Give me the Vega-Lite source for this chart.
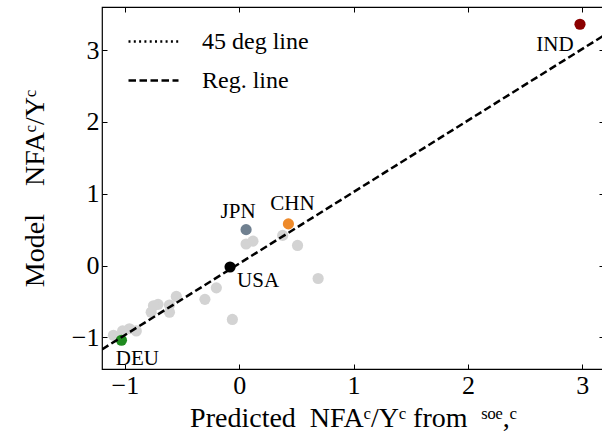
{
  "$schema": "https://vega.github.io/schema/vega-lite/v6.json",
  "width": 502,
  "height": 362,
  "autosize": {"type": "none"},
  "padding": {"left": 102, "top": 7, "right": 0, "bottom": 78},
  "config": {
    "view": {"stroke": "#000", "strokeWidth": 1.2},
    "font": "Liberation Serif",
    "axis": {
      "grid": false,
      "domain": false,
      "tickColor": "#000",
      "tickSize": -5,
      "tickWidth": 1,
      "labelFont": "Liberation Serif",
      "labelFontSize": 26,
      "labelColor": "#000",
      "titleFont": "Liberation Serif",
      "titleFontSize": 28,
      "titleFontWeight": "normal",
      "titleColor": "#000"
    },
    "legend": {
      "labelFont": "Liberation Serif",
      "labelFontSize": 24,
      "labelColor": "#000"
    }
  },
  "datasets": {
    "pts": [
      {"name": "other", "x": 0.06, "y": 0.30},
      {"name": "other", "x": 0.12, "y": 0.34},
      {"name": "other", "x": 0.38, "y": 0.42},
      {"name": "other", "x": 0.51, "y": 0.28},
      {"name": "other", "x": 0.69, "y": -0.18},
      {"name": "other", "x": -0.20, "y": -0.31},
      {"name": "other", "x": -0.30, "y": -0.47},
      {"name": "other", "x": -0.06, "y": -0.75},
      {"name": "other", "x": -0.55, "y": -0.43},
      {"name": "other", "x": -0.61, "y": -0.55},
      {"name": "other", "x": -0.61, "y": -0.65},
      {"name": "other", "x": -0.71, "y": -0.54},
      {"name": "other", "x": -0.75, "y": -0.56},
      {"name": "other", "x": -0.77, "y": -0.65},
      {"name": "other", "x": -0.90, "y": -0.91},
      {"name": "other", "x": -0.96, "y": -0.88},
      {"name": "other", "x": -1.02, "y": -0.91},
      {"name": "other", "x": -1.10, "y": -0.97},
      {"name": "USA", "x": -0.08, "y": -0.02},
      {"name": "JPN", "x": 0.06, "y": 0.50},
      {"name": "CHN", "x": 0.43, "y": 0.58},
      {"name": "DEU", "x": -1.03, "y": -1.04},
      {"name": "IND", "x": 2.98, "y": 3.36}
    ],
    "lines": [
      {"line": "45 deg line", "x": -1.2, "y": -1.2},
      {"line": "45 deg line", "x": 3.19, "y": 3.19},
      {"line": "Reg. line", "x": -1.2, "y": -1.167},
      {"line": "Reg. line", "x": 3.19, "y": 3.205}
    ]
  },
  "resolve": {"axis": {"x": "independent", "y": "independent"}},
  "layer": [
    {
      "data": {"name": "pts"},
      "mark": {"type": "circle", "size": 125, "opacity": 1},
      "encoding": {
        "x": {"field": "x", "type": "quantitative",
              "scale": {"domain": [-1.2, 3.19], "nice": false, "zero": false},
              "axis": {"values": [-1, 0, 1, 2, 3], "title": "Predicted\u00a0\u00a0NFAᶜ/Yᶜ from\u00a0\u00a0ˢᵒᵉ,ᶜ", "labelPadding": 8, "titlePadding": 6}},
        "y": {"field": "y", "type": "quantitative",
              "scale": {"domain": [-1.44, 3.6], "nice": false, "zero": false},
              "axis": {"values": [-1, 0, 1, 2, 3], "title": "Model\u00a0\u00a0\u00a0\u00a0NFAᶜ/Yᶜ", "labelPadding": 8, "titlePadding": 22}},
        "color": {"field": "name", "type": "nominal", "legend": null,
                  "scale": {"domain": ["other", "USA", "JPN", "CHN", "DEU", "IND"],
                            "range": ["#d3d3d3", "#000000", "#708090", "#ee8a2a", "#1f8b1f", "#8b0000"]}}
      }
    },
    {
      "data": {"name": "lines"},
      "mark": {"type": "line", "clip": true, "strokeWidth": 2.5, "color": "#000"},
      "encoding": {
        "x": {"field": "x", "type": "quantitative",
              "axis": {"orient": "top", "labels": false, "title": null, "values": [-1, 0, 1, 2, 3]}},
        "y": {"field": "y", "type": "quantitative",
              "axis": {"orient": "right", "labels": false, "title": null, "values": [-1, 0, 1, 2, 3]}},
        "strokeOpacity": {"field": "line", "type": "nominal", "legend": null,
                          "scale": {"domain": ["45 deg line", "Reg. line"], "range": [0, 1]}},
        "strokeDash": {"field": "line", "type": "nominal",
                       "scale": {"domain": ["45 deg line", "Reg. line"], "range": [[2, 3.3], [7.5, 3.5]]},
                       "legend": {"title": null, "orient": "none", "legendX": 25, "legendY": 8,
                                  "symbolType": "stroke", "symbolSize": 2500, "symbolStrokeWidth": 2.5,
                                  "symbolStrokeColor": "#000", "symbolOpacity": 1, "labelOffset": 22, "rowPadding": -14, "padding": 0}}
      }
    },
    {
      "data": {"name": "pts"},
      "transform": [{"filter": "datum.name === 'JPN'"}],
      "mark": {"type": "text", "fontSize": 21, "font": "Liberation Serif", "dx": -8, "dy": -12, "baseline": "alphabetic", "align": "center", "color": "#000"},
      "encoding": {"x": {"field": "x", "type": "quantitative", "axis": null}, "y": {"field": "y", "type": "quantitative", "axis": null}, "text": {"field": "name"}}
    },
    {
      "data": {"name": "pts"},
      "transform": [{"filter": "datum.name === 'CHN'"}],
      "mark": {"type": "text", "fontSize": 21, "font": "Liberation Serif", "dx": 4, "dy": -14, "baseline": "alphabetic", "align": "center", "color": "#000"},
      "encoding": {"x": {"field": "x", "type": "quantitative", "axis": null}, "y": {"field": "y", "type": "quantitative", "axis": null}, "text": {"field": "name"}}
    },
    {
      "data": {"name": "pts"},
      "transform": [{"filter": "datum.name === 'USA'"}],
      "mark": {"type": "text", "fontSize": 21, "font": "Liberation Serif", "dx": 28, "dy": 20, "baseline": "alphabetic", "align": "center", "color": "#000"},
      "encoding": {"x": {"field": "x", "type": "quantitative", "axis": null}, "y": {"field": "y", "type": "quantitative", "axis": null}, "text": {"field": "name"}}
    },
    {
      "data": {"name": "pts"},
      "transform": [{"filter": "datum.name === 'DEU'"}],
      "mark": {"type": "text", "fontSize": 21, "font": "Liberation Serif", "dx": 16, "dy": 25, "baseline": "alphabetic", "align": "center", "color": "#000"},
      "encoding": {"x": {"field": "x", "type": "quantitative", "axis": null}, "y": {"field": "y", "type": "quantitative", "axis": null}, "text": {"field": "name"}}
    },
    {
      "data": {"name": "pts"},
      "transform": [{"filter": "datum.name === 'IND'"}],
      "mark": {"type": "text", "fontSize": 21, "font": "Liberation Serif", "dx": -25, "dy": 27, "baseline": "alphabetic", "align": "center", "color": "#000"},
      "encoding": {"x": {"field": "x", "type": "quantitative", "axis": null}, "y": {"field": "y", "type": "quantitative", "axis": null}, "text": {"field": "name"}}
    }
  ]
}
